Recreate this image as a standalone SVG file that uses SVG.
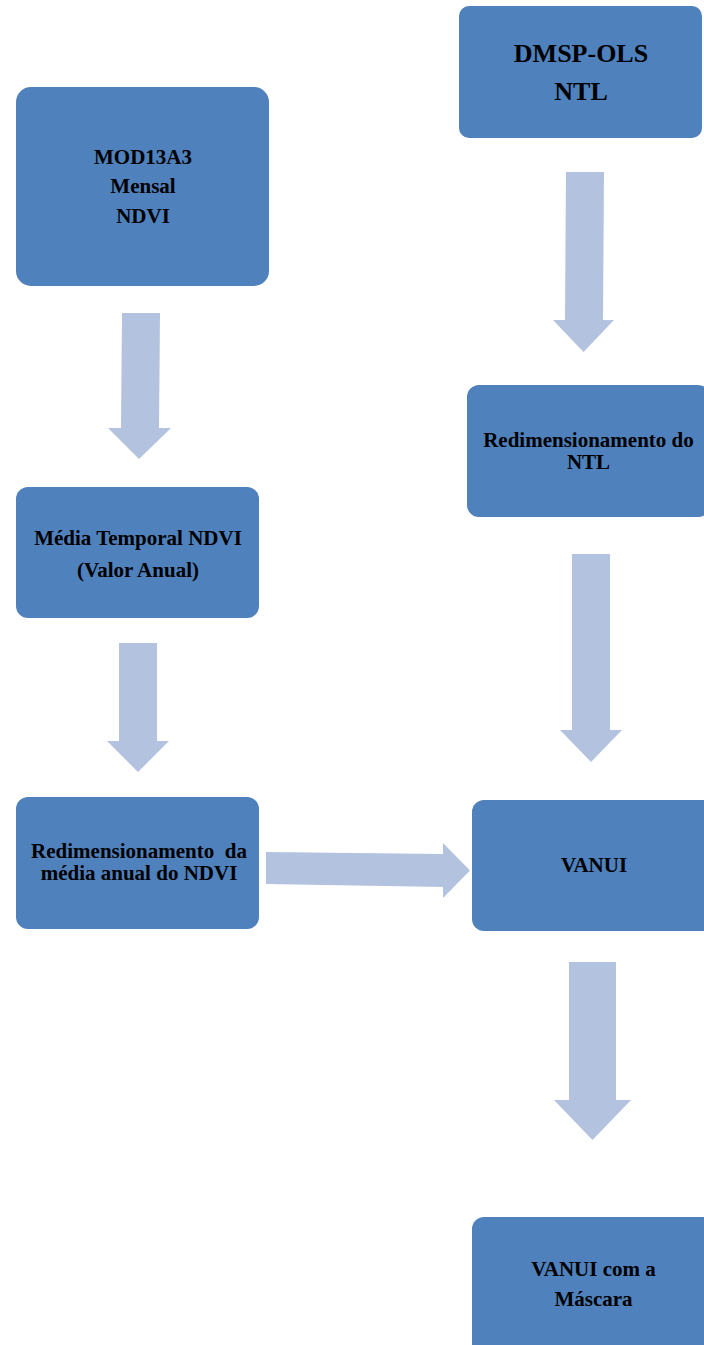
<svg xmlns="http://www.w3.org/2000/svg" width="704" height="1345" viewBox="0 0 704 1345">
<style>
.box{fill:#4F81BD;}
.arr{fill:#B3C3DF;}
text{font-family:"Liberation Serif","Times New Roman",serif;font-weight:bold;fill:#000;text-anchor:middle;font-size:21px;}
.big{font-size:26px;}
</style>
<rect width="704" height="1345" fill="#FFFFFF"/>
<g id="connectors">
<polygon class="arr" points="122,313 160,313 159,428 171,428 139,459 108,428 121,428"/>
<polygon class="arr" points="119,643 157,643 157,741 169,741 138,772 107,741 119,741"/>
<polygon class="arr" points="566,172 604,172 603,320 614,320 583.5,352 553,320 565,320"/>
<polygon class="arr" points="572,554 610,554 610,730 622,730 591,762 560,730 572,730"/>
<polygon class="arr" points="569,962 616,962 616,1100 631,1100 592.5,1140 554,1100 569,1100"/>
<polygon class="arr" points="266,852 443,854 443,843 470,870.5 443,898 443,887 266,884"/>
</g>
<g id="dmsp">
<rect class="box" x="459" y="6" width="243" height="132" rx="10"/>
<text class="big" x="581" y="62">DMSP-OLS</text>
<text class="big" x="581" y="100">NTL</text>
</g>
<g id="mod13a3">
<rect class="box" x="16" y="87" width="253" height="199" rx="15"/>
<text x="143" y="164">MOD13A3</text>
<text x="143" y="193">Mensal</text>
<text x="143" y="223">NDVI</text>
</g>
<g id="media">
<rect class="box" x="16" y="487" width="243" height="131" rx="12"/>
<text x="138" y="545">Média Temporal NDVI</text>
<text x="138" y="577">(Valor Anual)</text>
</g>
<g id="redim-ntl">
<rect class="box" x="467" y="385" width="243" height="132" rx="12"/>
<text x="588.5" y="447">Redimensionamento do</text>
<text x="588.5" y="469">NTL</text>
</g>
<g id="redim-ndvi">
<rect class="box" x="16" y="797" width="243" height="132" rx="12"/>
<text x="139" y="858" xml:space="preserve">Redimensionamento  da</text>
<text x="139" y="880">média anual do NDVI</text>
</g>
<g id="vanui">
<rect class="box" x="472" y="800" width="243" height="131" rx="12"/>
<text x="594" y="872">VANUI</text>
</g>
<g id="vanui-mascara">
<rect class="box" x="472" y="1217" width="243" height="140" rx="12"/>
<text x="593.5" y="1276">VANUI com a</text>
<text x="593.5" y="1306">Máscara</text>
</g>
</svg>
